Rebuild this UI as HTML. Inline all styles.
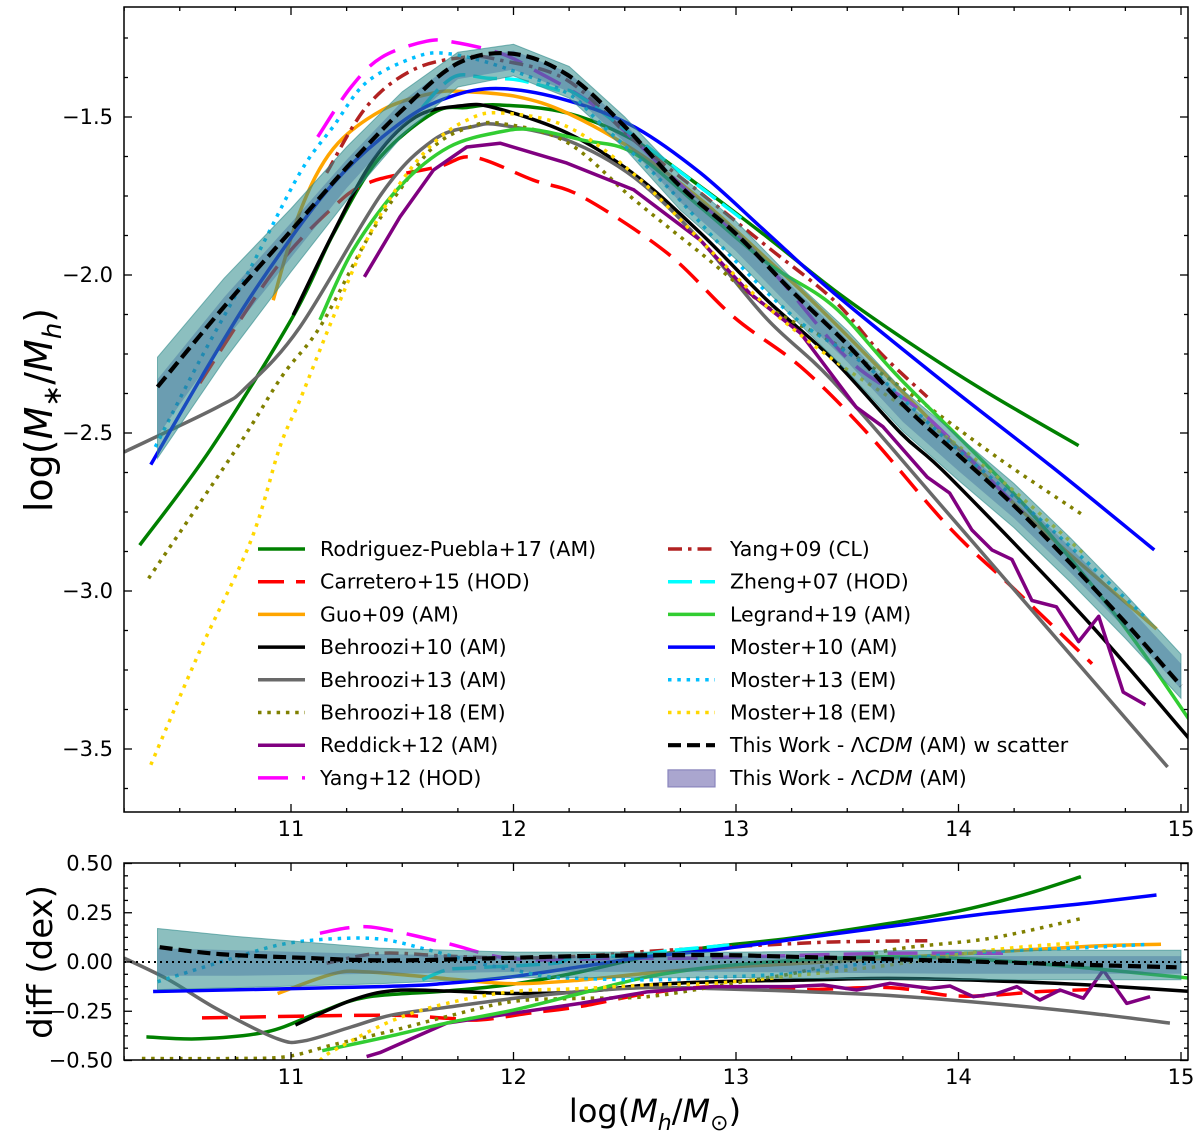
<!DOCTYPE html>
<html><head><meta charset="utf-8"><style>
html,body{margin:0;padding:0;background:#fff;}
svg{display:block;font-family:"DejaVu Sans","Liberation Sans",sans-serif;}
</style></head><body>
<svg id="chart" width="1200" height="1140" viewBox="0 0 1200 1140" xmlns="http://www.w3.org/2000/svg">
<defs>
<clipPath id="clipTop"><rect x="124" y="7" width="1064" height="805"/></clipPath>
<clipPath id="clipBot"><rect x="124" y="863" width="1064" height="197"/></clipPath>
</defs>
<g id="topMarks" clip-path="url(#clipTop)"></g>
<g id="botMarks" clip-path="url(#clipBot)"></g>
<g id="axes"></g>
<g id="legend"></g>
<text transform="translate(52,410) rotate(-90)" text-anchor="middle" font-size="38">log(<tspan font-style="italic">M</tspan><tspan font-size="26" dy="9">∗</tspan><tspan dy="-9">/</tspan><tspan font-style="italic">M</tspan><tspan font-size="26" font-style="italic" dy="9">h</tspan><tspan dy="-9">)</tspan></text>
<text transform="translate(52,962) rotate(-90)" text-anchor="middle" font-size="34">diff (dex)</text>
<text x="655" y="1122" text-anchor="middle" font-size="32">log(<tspan font-style="italic">M</tspan><tspan font-size="22" font-style="italic" dy="8">h</tspan><tspan dy="-8">/</tspan><tspan font-style="italic">M</tspan><tspan font-size="22" dy="8">⊙</tspan><tspan dy="-8">)</tspan></text>
</svg>
<script>
// ---- data: top panel log(M*/Mh) ----
const rp17X=[10.32,10.64,11.01,11.19,11.39,11.64,11.79,11.94,12.24,12.54,12.84,13.14,13.44,13.74,14.11,14.54];
const rp17Y=[-2.855,-2.55,-2.13,-1.87,-1.636,-1.487,-1.47,-1.462,-1.487,-1.573,-1.72,-1.88,-2.047,-2.196,-2.364,-2.54];
const carX=[10.59,10.92,11.19,11.36,11.66,11.82,12.09,12.31,12.69,12.99,13.29,13.59,13.96,14.26,14.6];
const carY=[-2.342,-1.99,-1.785,-1.705,-1.658,-1.627,-1.70,-1.753,-1.93,-2.133,-2.29,-2.5,-2.80,-3.0,-3.23];
const guoX=[10.92,11.04,11.19,11.41,11.64,11.79,12.02,12.24,12.54,12.84,13.14,13.44,14.26,14.89];
const guoY=[-2.08,-1.80,-1.60,-1.478,-1.424,-1.42,-1.436,-1.487,-1.604,-1.76,-1.95,-2.15,-2.73,-3.12];
const b10X=[11.01,11.19,11.37,11.56,11.76,11.91,12.24,12.54,12.84,13.14,13.44,13.74,13.96,14.56,15.04];
const b10Y=[-2.127,-1.867,-1.636,-1.5,-1.465,-1.47,-1.55,-1.68,-1.867,-2.08,-2.27,-2.5,-2.64,-3.08,-3.47];
const b13X=[10.25,10.67,10.8,11.04,11.41,11.64,11.82,11.94,12.24,12.54,12.84,13.14,13.44,13.96,14.94];
const b13Y=[-2.56,-2.418,-2.354,-2.165,-1.74,-1.573,-1.53,-1.525,-1.573,-1.69,-1.89,-2.14,-2.34,-2.76,-3.557];
const b18X=[10.36,10.76,10.96,11.13,11.34,11.49,11.64,11.79,11.94,12.24,12.54,12.84,13.14,13.44,13.74,14.19,14.56];
const b18Y=[-2.96,-2.544,-2.32,-2.165,-1.89,-1.73,-1.595,-1.535,-1.52,-1.58,-1.76,-1.93,-2.1,-2.215,-2.354,-2.585,-2.76];
const r12X=[11.33,11.49,11.64,11.79,11.94,12.24,12.54,12.84,13.06,13.29,13.54,13.66,13.86,13.96,14.06,14.15,14.24,14.33,14.44,14.54,14.63,14.74,14.84];
const r12Y=[-2.006,-1.816,-1.668,-1.595,-1.583,-1.646,-1.73,-1.89,-2.057,-2.184,-2.418,-2.48,-2.64,-2.69,-2.807,-2.87,-2.90,-3.03,-3.05,-3.16,-3.08,-3.32,-3.36];
const y12X=[11.12,11.27,11.41,11.61,11.73,11.94,12.09,12.39,12.76,13.14,13.51,13.84,14.29];
const y12Y=[-1.563,-1.405,-1.31,-1.26,-1.263,-1.298,-1.35,-1.478,-1.72,-1.97,-2.27,-2.437,-2.753];
const y09X=[11.16,11.34,11.55,11.79,11.94,12.24,12.54,12.84,13.14,13.44,13.65,13.86];
const y09Y=[-1.677,-1.467,-1.35,-1.31,-1.32,-1.383,-1.573,-1.74,-1.91,-2.08,-2.247,-2.386];
const z07X=[11.59,11.68,11.76,11.88,12.02,12.2,12.31,12.75,13.05];
const z07Y=[-1.47,-1.4,-1.367,-1.377,-1.383,-1.415,-1.44,-1.674,-1.835];
const l19X=[11.13,11.28,11.49,11.71,11.94,12.09,12.31,12.54,12.84,13.14,13.44,13.74,14.26,14.71,15.04];
const l19Y=[-2.142,-1.92,-1.72,-1.595,-1.547,-1.54,-1.573,-1.614,-1.785,-1.962,-2.1,-2.33,-2.70,-3.08,-3.41];
const m10X=[10.37,10.67,10.89,11.19,11.49,11.71,11.94,12.24,12.54,12.84,13.14,13.44,13.96,14.42,14.88];
const m10Y=[-2.60,-2.237,-1.994,-1.71,-1.52,-1.437,-1.41,-1.447,-1.53,-1.677,-1.867,-2.057,-2.354,-2.607,-2.87];
const m13X=[10.39,10.59,10.82,11.04,11.19,11.34,11.56,11.71,11.94,12.24,12.39,12.69,12.99,13.29,13.59,13.96,14.41,14.85];
const m13Y=[-2.544,-2.27,-1.975,-1.677,-1.53,-1.39,-1.31,-1.30,-1.34,-1.424,-1.52,-1.72,-1.95,-2.15,-2.29,-2.53,-2.8,-3.09];
const m18X=[10.37,10.59,10.82,10.95,11.04,11.19,11.34,11.49,11.64,11.79,11.94,12.24,12.54,12.84,13.14,13.44,13.74,13.96,14.26,14.56];
const m18Y=[-3.55,-3.19,-2.84,-2.544,-2.396,-2.133,-1.89,-1.71,-1.583,-1.51,-1.487,-1.53,-1.68,-1.89,-2.1,-2.27,-2.41,-2.52,-2.69,-2.88];
const twX=[10.4,10.7,11,11.25,11.5,11.75,12,12.25,12.5,12.75,13,13.25,13.5,13.75,14,14.25,14.5,14.75,15];
const twY=[-2.354,-2.10,-1.86,-1.66,-1.478,-1.33,-1.30,-1.37,-1.53,-1.72,-1.87,-2.05,-2.22,-2.41,-2.57,-2.73,-2.91,-3.10,-3.30];
const bandMid=[-2.42,-2.14,-1.89,-1.68,-1.49,-1.35,-1.32,-1.39,-1.55,-1.74,-1.89,-2.07,-2.24,-2.43,-2.58,-2.73,-2.90,-3.08,-3.27];
const bandOuter=[0.16,0.13,0.10,0.085,0.07,0.055,0.05,0.05,0.05,0.055,0.06,0.06,0.065,0.065,0.07,0.07,0.07,0.07,0.07];
const bandInner=[0.09,0.07,0.055,0.045,0.04,0.03,0.03,0.03,0.03,0.03,0.035,0.035,0.035,0.035,0.04,0.04,0.04,0.04,0.04];
// ---- data: diff panel (dex) ----
const rp17DX=[10.35,10.59,10.89,11.12,11.34,11.7,12.0,12.3,12.6,12.9,13.24,13.69,13.99,14.29,14.55];
const rp17D=[-0.38,-0.39,-0.355,-0.26,-0.178,-0.147,-0.112,-0.05,0.027,0.078,0.12,0.196,0.256,0.34,0.433];
const carDX=[10.6,11.41,11.7,11.85,12.07,12.3,12.6,12.9,13.29,13.69,13.96,14.14,14.37,14.59];
const carD=[-0.284,-0.27,-0.286,-0.294,-0.26,-0.226,-0.16,-0.125,-0.14,-0.13,-0.17,-0.17,-0.15,-0.14];
const guoDX=[10.94,11.19,11.34,11.7,12.0,12.3,12.6,12.9,13.29,13.69,14.14,14.59,14.91];
const guoD=[-0.16,-0.06,-0.05,-0.085,-0.11,-0.092,-0.057,-0.03,-0.007,0.02,0.05,0.08,0.09];
const b10DX=[11.02,11.27,11.46,11.7,12.0,12.3,12.6,12.9,13.29,13.69,14.14,14.59,15.05];
const b10D=[-0.32,-0.195,-0.145,-0.147,-0.16,-0.152,-0.117,-0.1,-0.092,-0.083,-0.095,-0.117,-0.15];
const b13DX=[10.25,10.45,10.67,10.94,11.06,11.27,11.45,11.7,12.0,12.3,12.6,12.9,13.29,13.69,14.14,14.59,14.95];
const b13D=[0.02,-0.09,-0.24,-0.39,-0.40,-0.33,-0.27,-0.23,-0.185,-0.15,-0.13,-0.135,-0.15,-0.17,-0.21,-0.26,-0.31];
const b18DX=[10.33,10.74,10.98,11.19,11.45,11.7,12.0,12.3,12.6,12.9,13.12,13.29,13.69,14.14,14.55];
const b18D=[-0.49,-0.49,-0.48,-0.42,-0.35,-0.277,-0.2,-0.185,-0.176,-0.125,-0.083,-0.05,0.06,0.12,0.22];
const m18DX=[11.13,11.19,11.45,11.7,12.0,12.3,12.6,12.9,13.29,13.69,14.14,14.56];
const m18D=[-0.5,-0.45,-0.30,-0.21,-0.15,-0.135,-0.117,-0.108,-0.066,-0.015,0.06,0.1];
const r12DX=[11.34,11.4,11.7,12.0,12.3,12.6,12.9,13.243,13.392,13.542,13.692,13.872,13.962,14.067,14.172,14.262,14.366,14.456,14.561,14.651,14.756,14.861];
const r12D=[-0.48,-0.46,-0.31,-0.26,-0.21,-0.152,-0.125,-0.125,-0.117,-0.142,-0.108,-0.134,-0.122,-0.176,-0.16,-0.125,-0.193,-0.142,-0.184,-0.041,-0.21,-0.176];
const y12DX=[11.13,11.27,11.4,11.7,11.93,12.15,12.45,12.75,13.05,13.69,14.2];
const y12D=[0.146,0.175,0.171,0.095,0.027,0.01,0.019,0.019,0.027,0.044,0.044];
const y09DX=[11.16,11.4,11.7,12.0,12.3,12.69,13.29,13.54,13.86];
const y09D=[-0.006,0.044,0.03,0.02,0.03,0.06,0.095,0.104,0.108];
const z07DX=[11.59,11.7,11.82,12.18,12.27,12.54,12.72,12.97];
const z07D=[-0.09,-0.04,-0.03,-0.007,0.02,0.035,0.06,0.086];
const l19DX=[11.14,11.4,11.7,12.0,12.3,12.6,12.9,13.29,13.69,14.14,14.59,15.05];
const l19D=[-0.45,-0.388,-0.31,-0.244,-0.16,-0.076,-0.025,0.01,0.027,0.01,-0.032,-0.083];
const m10DX=[10.38,11.4,11.7,12.0,12.3,12.6,12.9,13.29,13.69,14.14,14.59,14.89];
const m10D=[-0.15,-0.125,-0.108,-0.074,-0.024,0.027,0.061,0.12,0.18,0.247,0.3,0.34];
const m13DX=[10.4,10.54,10.74,10.96,11.19,11.41,11.62,11.85,12.0,12.15,12.3,12.6,12.9,13.29,13.69,14.14,14.59,14.86];
const m13D=[-0.1,-0.05,0.02,0.09,0.118,0.115,0.061,-0.007,-0.04,-0.074,-0.083,-0.091,-0.078,-0.054,0.01,0.052,0.074,0.09];
const twDX=[10.41,10.68,11.04,11.48,12.3,12.9,13.24,13.69,14.14,14.59,14.98];
const twD=[0.075,0.04,0.022,0.008,0.03,0.035,0.027,0.014,0.0,-0.015,-0.027];
const dBandX=[10.4,10.75,11.4,12,13,14,15];
const dOuterHi=[0.17,0.13,0.07,0.05,0.05,0.06,0.06];
const dOuterLo=[-0.14,-0.13,-0.11,-0.08,-0.08,-0.09,-0.09];
const dInnerHi=[0.07,0.06,0.04,0.03,0.03,0.03,0.03];
const dInnerLo=[-0.07,-0.07,-0.06,-0.05,-0.05,-0.06,-0.06];
// ticks
const xTicks=[11,12,13,14,15];
const yTicksTop=[-1.5,-2.0,-2.5,-3.0,-3.5];
const yTicksBot=[0.5,0.25,0,-0.25,-0.5];

const NS='http://www.w3.org/2000/svg';
const X=v=>291+(v-11)*222.5;
const YT=v=>117-(v+1.5)*316;
const YB=v=>962-v*197;
function mk(tag,attrs,parent){const e=document.createElementNS(NS,tag);for(const k in attrs)e.setAttribute(k,attrs[k]);parent.appendChild(e);return e;}
function pathD(xs,ys,fy){return xs.map((x,i)=>(i?'L':'M')+X(x).toFixed(1)+','+fy(ys[i]).toFixed(1)).join(' ');}
function smoothD(xs,ys,fy){
 const P=xs.map((x,i)=>[X(x),fy(ys[i])]);
 let d='M'+P[0][0].toFixed(1)+','+P[0][1].toFixed(1);
 for(let i=0;i<P.length-1;i++){
  const p0=P[Math.max(0,i-1)],p1=P[i],p2=P[i+1],p3=P[Math.min(P.length-1,i+2)];
  const c1=[p1[0]+(p2[0]-p0[0])/6,p1[1]+(p2[1]-p0[1])/6];
  const c2=[p2[0]-(p3[0]-p1[0])/6,p2[1]-(p3[1]-p1[1])/6];
  d+=' C'+c1[0].toFixed(1)+','+c1[1].toFixed(1)+' '+c2[0].toFixed(1)+','+c2[1].toFixed(1)+' '+p2[0].toFixed(1)+','+p2[1].toFixed(1);
 }
 return d;
}
function bandD(xs,lo,hi,fy){let d=xs.map((x,i)=>(i?'L':'M')+X(x).toFixed(1)+','+fy(hi[i]).toFixed(1)).join(' ');for(let i=xs.length-1;i>=0;i--)d+=' L'+X(xs[i]).toFixed(1)+','+fy(lo[i]).toFixed(1);return d+' Z';}

const topG=document.getElementById('topMarks'), botG=document.getElementById('botMarks');
const DOT='3.5,5.8';
const series=[
 {n:'rodriguez-puebla17',c:'#008000',da:'',t:[rp17X,rp17Y],b:[rp17DX,rp17D]},
 {n:'carretero15',c:'#ff0000',da:'26,12',t:[carX,carY],b:[carDX,carD]},
 {n:'guo09',c:'#ffa500',da:'',t:[guoX,guoY],b:[guoDX,guoD]},
 {n:'behroozi10',c:'#000000',da:'',t:[b10X,b10Y],b:[b10DX,b10D]},
 {n:'behroozi13',c:'#696969',da:'',t:[b13X,b13Y],b:[b13DX,b13D]},
 {n:'behroozi18',c:'#808000',da:DOT,t:[b18X,b18Y],b:[b18DX,b18D]},
 {n:'reddick12',c:'#800080',da:'',t:[r12X,r12Y],b:[r12DX,r12D],jag:true},
 {n:'yang12',c:'#ff00ff',da:'30,14',t:[y12X,y12Y],b:[y12DX,y12D]},
 {n:'yang09',c:'#b22222',da:'14,6,3.5,6',t:[y09X,y09Y],b:[y09DX,y09D]},
 {n:'zheng07',c:'#00ffff',da:'24,8',t:[z07X,z07Y],b:[z07DX,z07D]},
 {n:'legrand19',c:'#32cd32',da:'',t:[l19X,l19Y],b:[l19DX,l19D]},
 {n:'moster10',c:'#0000ff',da:'',t:[m10X,m10Y],b:[m10DX,m10D]},
 {n:'moster13',c:'#00bfff',da:DOT,t:[m13X,m13Y],b:[m13DX,m13D]},
 {n:'moster18',c:'#ffd700',da:DOT,t:[m18X,m18Y],b:[m18DX,m18D]}
];
series.forEach(s=>{
 const f=s.jag?pathD:smoothD;
 const p=mk('path',{d:f(s.t[0],s.t[1],YT),fill:'none',stroke:s.c,'stroke-width':3.5,'stroke-dasharray':s.da||'none','stroke-linejoin':'round'},topG);
 
 
 const q=mk('path',{d:f(s.b[0],s.b[1],YB),fill:'none',stroke:s.c,'stroke-width':3.5,'stroke-dasharray':s.da||'none','stroke-linejoin':'round'},botG);
 
 
});
// top band
const hiO=bandMid.map((m,i)=>m+bandOuter[i]), loO=bandMid.map((m,i)=>m-bandOuter[i]);
const hiI=bandMid.map((m,i)=>m+bandInner[i]), loI=bandMid.map((m,i)=>m-bandInner[i]);
const bo=mk('path',{d:bandD(twX,loO,hiO,YT),fill:'#2e8b8b','fill-opacity':0.55,stroke:'#2e8b8b','stroke-opacity':0.6,'stroke-width':1},topG);


const bi=mk('path',{d:bandD(twX,loI,hiI,YT),fill:'#2f5f99','fill-opacity':0.35},topG);


const tw=mk('path',{d:smoothD(twX,twY,YT),fill:'none',stroke:'#000','stroke-width':4.2,'stroke-dasharray':'13,6'},topG);


// bottom band
const dbo=mk('path',{d:bandD(dBandX,dOuterLo,dOuterHi,YB),fill:'#2e8b8b','fill-opacity':0.55,stroke:'#2e8b8b','stroke-opacity':0.6,'stroke-width':1},botG);


const dbi=mk('path',{d:bandD(dBandX,dInnerLo,dInnerHi,YB),fill:'#2f5f99','fill-opacity':0.35},botG);


const zl=mk('line',{x1:124,x2:1188,y1:YB(0),y2:YB(0),stroke:'#000','stroke-width':2,'stroke-dasharray':'2,4'},botG);


const twd=mk('path',{d:smoothD(twDX,twD,YB),fill:'none',stroke:'#000','stroke-width':4.2,'stroke-dasharray':'13,6'},botG);



// axes
const ax=document.getElementById('axes');
function frame(y0,y1,name){const r=mk('rect',{x:124,y:y0,width:1064,height:y1-y0,fill:'none',stroke:'#000','stroke-width':1.5},ax);}
frame(7,812,'top-panel-frame');frame(863,1060,'diff-panel-frame');
function tick(x1,y1,x2,y2){mk('line',{x1,y1,x2,y2,stroke:'#000','stroke-width':1.3},ax);}
function label(x,y,txt,anchor,name){const t=mk('text',{x,y,'text-anchor':anchor,'font-size':21,fill:'#000'},ax);t.textContent=txt;}
[[7,812],[863,1060]].forEach(([y0,y1],pi)=>{
 for(let v=10.25;v<=15.01;v+=0.25){const px=X(v);const maj=Math.abs(v-Math.round(v))<1e-6;const L=maj?8:4;tick(px,y1,px,y1-L);tick(px,y0,px,y0+L);}
 xTicks.forEach(v=>label(X(v),y1+24,String(v),'middle',(pi?'diff-':'')+'x-tick-'+v));
});
for(let v=-1.25;v>=-3.7;v-=0.125){const py=YT(v);if(py<7||py>812)continue;const maj=Math.abs(v*2-Math.round(v*2))<1e-6;const L=maj?8:4;tick(124,py,124+L,py);tick(1188,py,1188-L,py);}
yTicksTop.forEach(v=>label(113,YT(v)+7,'−'+Math.abs(v).toFixed(1),'end','y-tick-'+v));
for(let v=0.5;v>=-0.5001;v-=0.0625){const py=YB(v);const maj=Math.abs(v*4-Math.round(v*4))<1e-6;const L=maj?8:4;tick(124,py,124+L,py);tick(1188,py,1188-L,py);}
yTicksBot.forEach(v=>label(113,YB(v)+7,(v<0?'−':'')+Math.abs(v).toFixed(2),'end','diff-y-tick-'+v));

// legend
const lg=document.getElementById('legend');
const legL=[['Rodriguez-Puebla+17 (AM)','#008000',''],['Carretero+15 (HOD)','#ff0000','26,12'],['Guo+09 (AM)','#ffa500',''],['Behroozi+10 (AM)','#000000',''],['Behroozi+13 (AM)','#696969',''],['Behroozi+18 (EM)','#808000',DOT],['Reddick+12 (AM)','#800080',''],['Yang+12 (HOD)','#ff00ff','30,14']];
const legR=[['Yang+09 (CL)','#b22222','14,6,3.5,6'],['Zheng+07 (HOD)','#00ffff','24,8'],['Legrand+19 (AM)','#32cd32',''],['Moster+10 (AM)','#0000ff',''],['Moster+13 (EM)','#00bfff',DOT],['Moster+18 (EM)','#ffd700',DOT],['TW','#000','13,6'],['TWB','','']];
function legEntry(x,y,e,i,col){
 const g=mk('g',{},lg);
 
 
 if(e[0]==='TWB'){mk('rect',{x:x,y:y-8,width:47,height:17,fill:'#aaa6cf',stroke:'#8a86bd','stroke-width':1.2},g);}
 else mk('line',{x1:x,x2:x+47,y1:y,y2:y,stroke:e[1],'stroke-width':e[0]==='TW'?4.2:3.5,'stroke-dasharray':e[2]||'none'},g);
 const t=mk('text',{x:x+62,y:y+7,'font-size':20.5,fill:'#000'},g);
 if(e[0]==='TW'||e[0]==='TWB'){
  const a=document.createElementNS(NS,'tspan');a.textContent='This Work - Λ';t.appendChild(a);
  const b=document.createElementNS(NS,'tspan');b.setAttribute('font-style','italic');b.textContent='CDM';t.appendChild(b);
  const c=document.createElementNS(NS,'tspan');c.textContent=e[0]==='TW'?' (AM) w scatter':' (AM)';t.appendChild(c);
 } else t.textContent=e[0];
}
legL.forEach((e,i)=>legEntry(258,549+i*32.7,e,i,'left'));
legR.forEach((e,i)=>legEntry(668,549+i*32.7,e,i,'right'));
</script>
</body></html>
